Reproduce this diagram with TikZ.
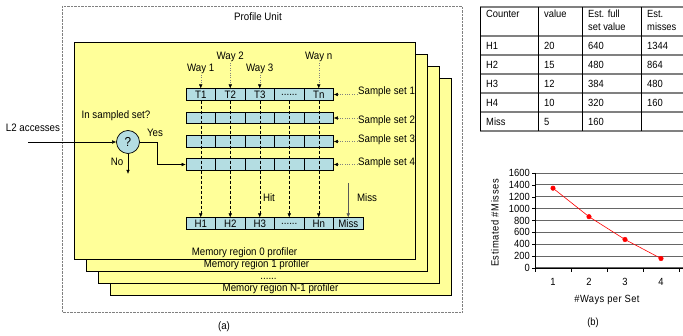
\documentclass[tikz,border=0pt]{standalone}
\usepackage{fontspec}
\setmainfont{Liberation Sans}[FakeStretch=0.9]
\usetikzlibrary{arrows.meta}
\definecolor{regionyellow}{RGB}{255,255,153}
\definecolor{cellblue}{RGB}{180,221,226}
\newcommand\sixdots{......}
\begin{document}
\begin{tikzpicture}[x=1pt,y=-1pt,
    every node/.style={font=\fontsize{10.8}{12}\selectfont, inner sep=1pt},
    plain/.style={font=\fontsize{10.4}{12}\selectfont},
    region/.style={draw, fill=regionyellow, line width=0.8pt},
    cell/.style={draw, fill=cellblue, line width=0.7pt, minimum width=29.5pt, minimum height=11.5pt, inner sep=0pt},
    hop/.style={-{Latex[length=4pt,width=3.5pt]}},
    tag/.style={gray, dotted, -{Latex[length=4pt,width=3.5pt,color=black]}}]
  \useasboundingbox (0,0) rectangle (683,336);
  \draw[gray, densely dotted] (62,6) rectangle (462,312);
  \node (unit) at (258,17) {Profile Unit};
  \foreach \k/\txt in {3/Memory region N-1 profiler, 2/\sixdots, 1/Memory region 1 profiler, 0/Memory region 0 profiler} {
    \draw[region] (74+12*\k, 42+12*\k) rectangle ++(341,217);
    \node[anchor=base] (reg\k) at (244.5+12*\k, 256+12*\k) {\txt};
  }
  \foreach \c/\t in {1/T1,2/T2,3/T3,4/\sixdots,5/Tn} \foreach \r/\y in {1/94.5,2/118,3/141.5,4/164.5} {
    \ifnum\r=1 \def\celltext{\t}\else\def\celltext{}\fi
    \node[cell] (s\r-\c) at (171.25+29.5*\c, \y) {\celltext};
  }
  \foreach \c/\t in {1/H1,2/H2,3/H3,4/\sixdots,5/Hn,6/Miss}
    \node[cell] (h\c) at (171.25+29.5*\c, 223.5) {\t};
  \foreach \c in {1,...,5}
    \draw[densely dashed, hop] (s1-\c.south) -- (h\c.north);
  \foreach \c/\t/\y in {1/Way 1/69, 2/Way 2/57, 3/Way 3/69, 5/Way n/57} {
    \node (way\c) at (171.25+29.5*\c, \y) {\t};
    \draw[tag] (way\c.south) -- (s1-\c.north);
  }
  \foreach \r/\y in {1/92, 2/121, 3/140, 4/163} {
    \node[anchor=west] (set\r) at (357,\y) {Sample set \r};
    \draw[tag] (set\r.west |- s\r-5.east) -- (s\r-5.east);
  }
  \node[draw, circle, fill=cellblue, line width=0.7pt, minimum size=23pt, inner sep=0pt,
        font=\fontsize{13}{14}\selectfont] (q) at (128,142) {?};
  \coordinate (l2in) at (28,142);
  \draw[hop] (l2in) -- (q);
  \node (l2) at (33,128) {L2 accesses};
  \node (sampled) at (116,116) {In sampled set?};
  \draw[hop] (q.east) -- ++(17,0) |- (s4-1.west);
  \node (yes) at (155,133) {Yes};
  \draw[hop] (q.south) -- ++(0,20);
  \node (no) at (117,162) {No};
  \node (hit) at (269,198) {Hit};
  \coordinate (missin) at (348.25,183);
  \draw[hop, gray!70!black] (missin) -- (h6.north);
  \node (misslbl) at (367,198) {Miss};
  \node (capa) at (224,327) {(a)};
  \foreach \y in {7,36,55,74,93,112,131} \draw[gray, line width=1.2pt] (480,\y) -- (683,\y);
  \foreach \x in {480,538,582,641} \draw[line width=0.6pt] (\x,7) -- (\x,131);
  \foreach \x/\t [count=\i] in {480/Counter, 538/value, 582/{Est. full\\set value}, 641/{Est.\\misses}}
    \node[anchor=north west, align=left, font=\fontsize{10.4}{13}\selectfont] (hd\i) at (\x+5,9) {\t};
  \foreach \n/\v/\f/\m [count=\i] in {H1/20/640/1344, H2/15/480/864, H3/12/384/480, H4/10/320/160, Miss/5/160/{}} {
    \node[plain, anchor=west] (cn\i) at (485, 26.5+19*\i) {\n};
    \node[plain, anchor=west] (cv\i) at (543, 26.5+19*\i) {\v};
    \node[plain, anchor=west] (cf\i) at (587, 26.5+19*\i) {\f};
    \node[plain, anchor=west] (cm\i) at (646, 26.5+19*\i) {\m};
  }
  \foreach \v in {0,200,...,1600} {
    \draw[black!60, line width=1pt] (535, 268-0.059375*\v) -- (683, 268-0.059375*\v);
    \draw (532, 268-0.059375*\v) -- (535, 268-0.059375*\v);
    \node[plain, anchor=east] (yt\v) at (531, 268-0.059375*\v) {\v};
  }
  \draw (535,173) -- (535,268) -- (683,268);
  \foreach \x in {535,571,607,643,679} \draw (\x,268) -- (\x,272);
  \draw[red, line width=0.6pt, mark=*, mark size=2.2pt] plot coordinates {(553,188.2) (589,216.7) (625,239.5) (661,258.5)};
  \foreach \x [count=\i] in {553,589,625,661} \node[plain] (xt\i) at (\x,282) {\i};
  \node[plain] (xlab) at (607,300) {\addfontfeatures{LetterSpace=4}\#Ways per Set};
  \node[plain, rotate=90] (ylab) at (495,223) {\addfontfeatures{LetterSpace=6}Estimated \#Misses};
  \node[plain] (capb) at (593,323) {(b)};
\end{tikzpicture}
\end{document}
